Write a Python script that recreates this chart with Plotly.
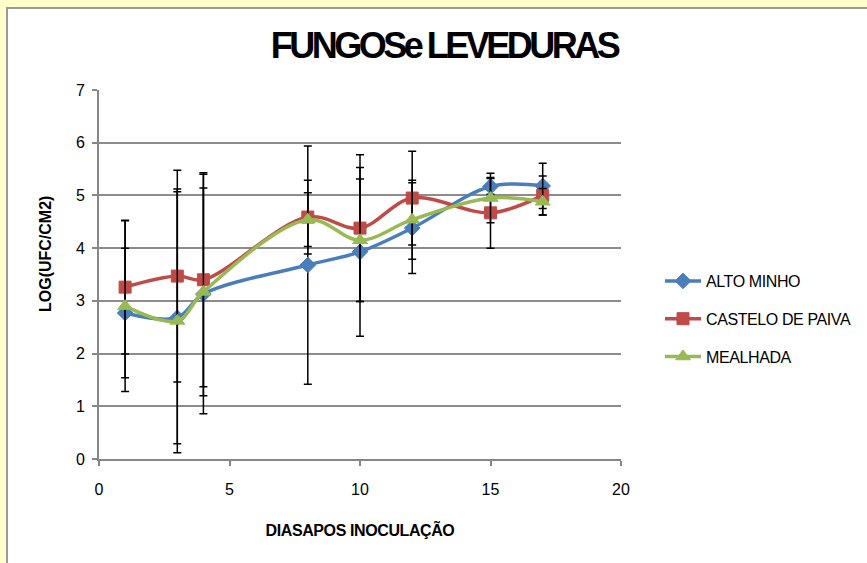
import plotly.graph_objects as go

# days after inoculation
dias = [1, 3, 4, 8, 10, 12, 15, 17]

alto_minho = [2.77, 2.68, 3.13, 3.68, 3.93, 4.38, 5.17, 5.18]
alto_minho_err = [1.23, 2.39, 2.27, 2.26, 1.60, 0.86, 0.15, 0.43]

castelo_paiva = [3.26, 3.47, 3.40, 4.59, 4.38, 4.95, 4.67, 5.00]
castelo_paiva_err = [1.27, 2.01, 2.03, 0.70, 1.39, 0.89, 0.67, 0.37]

mealhada = [2.90, 2.62, 3.17, 4.54, 4.15, 4.54, 4.95, 4.88]
mealhada_err = [1.62, 2.50, 1.97, 0.51, 1.16, 0.75, 0.47, 0.25]

series_names = ['ALTO MINHO', 'CASTELO DE PAIVA', 'MEALHADA']

font_family = 'Liberation Sans, Arial, sans-serif'

fig = go.Figure()

styles = [
    (alto_minho, alto_minho_err, '#4A7EBB', 'diamond', 12),
    (castelo_paiva, castelo_paiva_err, '#BE4B48', 'square', 12),
    (mealhada, mealhada_err, '#98B954', 'triangle-up', 13),
]

for name, (vals, errs, color, symbol, size) in zip(series_names, styles):
    fig.add_trace(go.Scatter(
        x=dias, y=vals, name=name, mode='lines+markers',
        line=dict(color=color, width=3.5, shape='spline', smoothing=1),
        marker=dict(symbol=symbol, size=size, color=color,
                    line=dict(color=color, width=1)),
        error_y=dict(type='data', array=errs, visible=True,
                     color='black', thickness=1.5, width=4),
        legendgroup=name,
    ))

# white chart card over the yellow page
fig.add_shape(type='rect', xref='paper', yref='paper',
              x0=(7 - 99) / 522, x1=(880 - 99) / 522,
              y0=(459 - 580) / 369, y1=(459 - 8) / 369,
              fillcolor='white', line=dict(color='#9A9A9A', width=2),
              layer='below')

fig.add_annotation(text='<b>LOG(UFC/CM2)</b>', xref='paper', yref='paper',
                   x=(45 - 99) / 522, y=(459 - 254) / 369,
                   xanchor='center', yanchor='middle',
                   textangle=-90, showarrow=False,
                   font=dict(family=font_family, size=16, color='black'))

fig.update_layout(
    width=867, height=563,
    margin=dict(l=99, r=246, t=90, b=104, autoexpand=False),
    paper_bgcolor='#FFFFCC', plot_bgcolor='white',
    title=dict(text='<b>FUNGOSe LEVEDURAS</b>', x=(444 / 867), xanchor='center',
               y=1 - 45 / 563, yanchor='middle',
               font=dict(family=font_family, size=36, color='black')),
    xaxis=dict(range=[0, 20], dtick=5, showgrid=False,
               showline=True, linecolor='#868686', linewidth=2,
               ticks='outside', ticklen=5, tickcolor='#868686', tickwidth=2,
               tickfont=dict(family=font_family, size=16, color='black'),
               ticklabelstandoff=10,
               zeroline=False,
               title=dict(text='<b>DIASAPOS INOCULAÇÃO</b>', standoff=28,
                          font=dict(family=font_family, size=16, color='black'))),
    yaxis=dict(range=[0, 7], dtick=1, showgrid=True, gridcolor='#8C8C8C', gridwidth=1.5,
               showline=True, linecolor='#868686', linewidth=2,
               ticks='outside', ticklen=5, tickcolor='#868686', tickwidth=2,
               tickfont=dict(family=font_family, size=16, color='black'),
               ticklabelstandoff=4,
               zeroline=False),
    legend=dict(x=(660 - 99) / 522, y=(459 - 264) / 369, xanchor='left', yanchor='top',
                bgcolor='rgba(0,0,0,0)', tracegroupgap=14, itemwidth=36,
                font=dict(family=font_family, size=16, color='black')),
    showlegend=True,
)

# no page margin, and the tight letter spacing of the original chart text
post = """
document.body.style.margin = '0px';
document.querySelectorAll('.gtitle').forEach(function(e){ e.style.letterSpacing = '-3.5px'; });
document.querySelectorAll('.legendtext').forEach(function(e){ e.style.letterSpacing = '-0.4px'; });
document.querySelectorAll('.xtitle').forEach(function(e){ e.style.letterSpacing = '-0.4px'; });
"""

fig.write_html('out.html', post_script=post, config={'displayModeBar': False})
